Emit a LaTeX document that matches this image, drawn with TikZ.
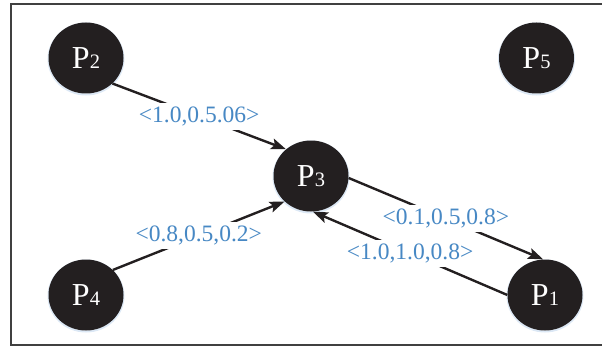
\documentclass[tikz,border=0pt]{standalone}
\usepackage{fontspec}
\setmainfont{Liberation Serif}
\usetikzlibrary{shapes.geometric,arrows.meta}
\definecolor{nodefill}{HTML}{231F20}
\definecolor{labblue}{HTML}{4788C4}
\definecolor{glowc}{HTML}{DCE8F5}
\newcommand\Pname[1]{{\fontsize{32}{32}\selectfont P}{\fontsize{20.5}{20.5}\selectfont #1}}
\tikzset{
  pnode/.style={ellipse, fill=nodefill, text=white, minimum width=75pt, minimum height=71pt, inner sep=0pt,
    preaction={draw=glowc, line width=2pt, transform canvas={yshift=-1pt}}},
  arr/.style={line width=2.4pt, draw=nodefill, -{Stealth[length=15pt,width=11pt,inset=3pt]}},
  lab/.style={fill=white, text=labblue, inner sep=4pt, font=\fontsize{23.5}{23.5}\selectfont},
  frame/.style={draw=black!75, line width=1.2pt}
}
\begin{document}
\begin{tikzpicture}[x=1pt,y=-1pt]
\useasboundingbox (0,0) rectangle (602,350);
\draw[frame] (602,4) -- (11,4) -- (11,345) -- (602,345);
\node[pnode] (P2) at (86,58) {\Pname{2}};
\node[pnode] (P5) at (536.5,58) {\Pname{5}};
\node[pnode] (P3) at (311,176) {\Pname{3}};
\node[pnode] (P4) at (86,295) {\Pname{4}};
\node[pnode] (P1) at (545,295) {\Pname{1}};
\draw[arr] (P2.-44) -- node[lab]{<1.0,0.5.06>} (P3.133);
\draw[arr] (P4.43) -- node[lab]{<0.8,0.5,0.2>} (P3.224);
\draw[arr] (P3.-3) -- node[lab]{<0.1,0.5,0.8>} (P1.93);
\draw[arr] (P1.180) -- node[lab]{<1.0,1.0,0.8>} (P3.-87);
\end{tikzpicture}
\end{document}
